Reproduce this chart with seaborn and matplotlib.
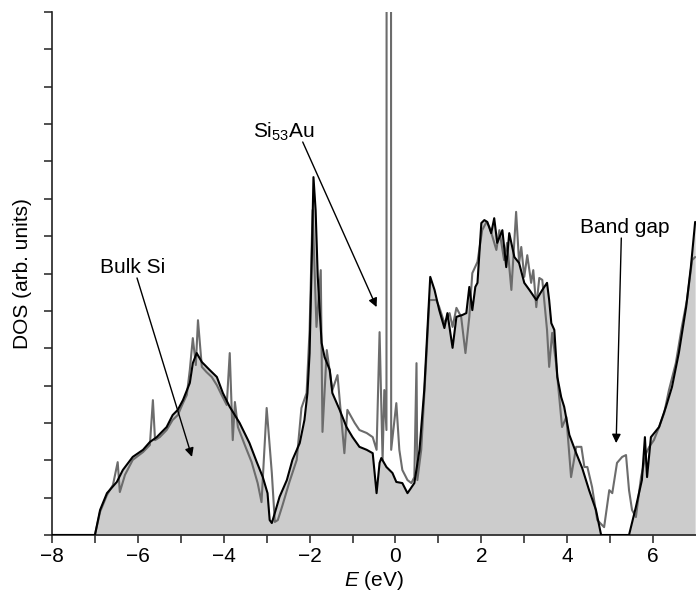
import numpy as np
import pandas as pd
import matplotlib
matplotlib.use("Agg")
import matplotlib.pyplot as plt
import seaborn as sns

# bulk Si DOS (black, filled)
bulk_e = [-8.0, -7.00, -6.88, -6.72, -6.49, -6.35, -6.12, -5.88, -5.72, -5.56,
          -5.33, -5.19, -5.07, -4.95, -4.79, -4.72, -4.63, -4.51, -4.33, -4.16,
          -4.02, -3.86, -3.63, -3.40, -3.23, -3.09, -2.98, -2.93, -2.88, -2.81,
          -2.70, -2.53, -2.40, -2.23, -2.12, -2.05, -2.00, -1.95, -1.91, -1.86,
          -1.81, -1.72, -1.65, -1.53, -1.47, -1.30, -1.14, -1.00, -0.84, -0.67,
          -0.53, -0.44, -0.37, -0.33, -0.21, -0.07, 0.02, 0.16, 0.28, 0.44,
          0.56, 0.67, 0.81, 0.91, 1.02, 1.14, 1.21, 1.33, 1.42, 1.56,
          1.65, 1.72, 1.79, 1.86, 1.91, 2.00, 2.07, 2.14, 2.23, 2.30,
          2.37, 2.49, 2.58, 2.65, 2.77, 2.88, 3.00, 3.12, 3.28, 3.42,
          3.53, 3.58, 3.63, 3.70, 3.77, 3.86, 3.93, 4.05, 4.21, 4.35,
          4.51, 4.67, 4.79, 5.44, 5.60, 5.74, 5.81, 5.86, 5.95, 6.14,
          6.30, 6.44, 6.60, 6.77, 6.88, 6.98]
bulk_dos = [0, 0, 0.67, 1.12, 1.42, 1.74, 2.09, 2.28, 2.49, 2.62,
            2.89, 3.21, 3.35, 3.61, 4.07, 4.60, 4.87, 4.63, 4.42, 4.23,
            3.80, 3.43, 3.00, 2.46, 1.95, 1.55, 1.12, 0.40, 0.32, 0.59,
            1.02, 1.47, 2.01, 2.46, 3.08, 3.80, 4.87, 7.36, 9.58, 8.70,
            6.91, 5.14, 4.76, 4.42, 3.80, 3.35, 2.89, 2.62, 2.36, 2.28,
            2.19, 1.12, 1.93, 2.06, 1.82, 1.66, 1.42, 1.39, 1.12, 1.39,
            2.28, 3.88, 6.91, 6.56, 6.02, 5.54, 5.94, 5.01, 5.84, 5.89,
            5.94, 6.64, 6.02, 6.64, 6.75, 8.35, 8.43, 8.38, 8.08, 8.48,
            7.82, 8.16, 7.17, 8.08, 7.44, 7.28, 6.75, 6.56, 6.29, 6.56,
            6.75, 6.29, 5.67, 5.49, 4.23, 3.69, 3.43, 2.68, 2.19, 1.79,
            1.20, 0.67, 0, 0, 0.75, 1.47, 2.62, 1.55, 2.62, 2.89,
            3.43, 3.96, 4.87, 6.10, 7.17, 8.38]

# Si53Au DOS (grey line)
au_e = [-8.0, -7.00, -6.88, -6.72, -6.58, -6.47, -6.42, -6.30, -6.12, -5.88,
        -5.72, -5.65, -5.60, -5.49, -5.33, -5.19, -5.07, -4.95, -4.86, -4.79,
        -4.72, -4.65, -4.60, -4.51, -4.40, -4.28, -4.16, -4.05, -3.93, -3.86,
        -3.79, -3.74, -3.67, -3.51, -3.35, -3.21, -3.12, -3.00, -2.88, -2.81,
        -2.74, -2.63, -2.47, -2.30, -2.19, -2.07, -2.00, -1.93, -1.84, -1.74,
        -1.70, -1.60, -1.47, -1.35, -1.19, -1.12, -0.95, -0.84, -0.67, -0.53,
        -0.44, -0.37, -0.30, -0.26, -0.21, -0.155, -0.10, 0.02, 0.09, 0.16,
        0.28, 0.37, 0.44, 0.49, 0.51, 0.60, 0.72, 0.79, 0.95, 1.02,
        1.14, 1.26, 1.33, 1.42, 1.53, 1.63, 1.72, 1.79, 1.91, 2.02,
        2.12, 2.19, 2.26, 2.35, 2.42, 2.53, 2.60, 2.70, 2.81, 2.88,
        2.93, 3.00, 3.07, 3.16, 3.21, 3.28, 3.35, 3.42, 3.53, 3.58,
        3.65, 3.74, 3.88, 3.98, 4.09, 4.21, 4.33, 4.40, 4.47, 4.58,
        4.70, 4.86, 4.98, 5.05, 5.16, 5.28, 5.37, 5.44, 5.51, 5.60,
        5.72, 5.84, 5.91, 6.02, 6.14, 6.26, 6.37, 6.53, 6.67, 6.79,
        6.91, 6.98]
au_dos = [0, 0, 0.62, 1.07, 1.34, 1.95, 1.15, 1.61, 2.01, 2.22,
          2.41, 3.61, 2.54, 2.62, 2.81, 3.08, 3.21, 3.53, 3.75, 4.42,
          5.27, 4.55, 5.75, 4.50, 4.36, 4.23, 4.01, 3.75, 3.48, 4.87,
          2.54, 3.56, 2.89, 2.41, 1.95, 1.39, 0.88, 3.40, 1.66, 0.35,
          0.40, 0.80, 1.42, 2.01, 3.40, 3.80, 5.49, 8.70, 5.57, 7.09,
          2.76, 4.95, 3.88, 4.28, 2.19, 3.35, 3.00, 2.81, 2.73, 2.62,
          2.28, 5.43, 2.01, 3.88, 2.81, 200.0, 2.28, 3.53, 2.28, 1.74,
          1.47, 1.39, 1.55, 4.60, 1.47, 2.28, 4.76, 6.29, 6.29, 6.10,
          5.67, 5.94, 5.57, 6.08, 5.84, 4.87, 5.84, 7.01, 7.31, 8.16,
          8.38, 8.24, 7.98, 7.63, 8.16, 7.36, 7.82, 6.56, 8.65, 7.28,
          7.71, 6.91, 7.49, 6.75, 7.09, 6.10, 6.88, 6.83, 5.49, 4.50,
          5.41, 4.60, 2.89, 3.16, 1.55, 2.36, 2.36, 1.82, 1.82, 1.28,
          0.40, 0.21, 1.20, 1.12, 1.93, 2.09, 2.14, 1.20, 0.67, 0.48,
          1.55, 2.19, 2.36, 2.54, 2.89, 3.27, 3.88, 4.60, 5.57, 6.29,
          7.36, 7.44]

x_ticks = [-8, -6, -4, -2, 0, 2, 4, 6]

bulk = pd.DataFrame({"E": bulk_e, "DOS": bulk_dos})
si_au = pd.DataFrame({"E": au_e, "DOS": au_dos})

sns.set_style("ticks")
plt.rcParams["font.family"] = ["Liberation Sans", "DejaVu Sans"]
plt.rcParams["mathtext.fontset"] = "custom"
plt.rcParams["mathtext.rm"] = "Liberation Sans"
plt.rcParams["mathtext.it"] = "Liberation Sans:italic"
plt.rcParams["text.color"] = "black"

fig = plt.figure(figsize=(6.96, 6.01), dpi=100)
ax = fig.add_axes([52 / 696, 66 / 601, 644 / 696, 523 / 601])

ax.fill_between(bulk["E"], 0, bulk["DOS"], color="#cccccc", lw=0, zorder=1)
sns.lineplot(data=si_au, x="E", y="DOS", sort=False, estimator=None,
             color="#6c6c6c", lw=1.5, ax=ax, zorder=2)
sns.lineplot(data=bulk, x="E", y="DOS", sort=False, estimator=None,
             color="black", lw=1.5, ax=ax, zorder=3)

ax.set_xlim(-8, 7)
ax.set_ylim(0, 14)
ax.set_xticks(x_ticks)
ax.set_xticks(np.arange(-7, 7, 2), minor=True)
ax.set_yticks(np.arange(0, 15, 1))
ax.set_yticklabels([])
ax.tick_params(axis="both", which="both", direction="out", length=6,
               width=1.1, colors="#222222", labelsize=15, labelcolor="black")
ax.tick_params(axis="x", pad=3)

sns.despine(ax=ax)
for side in ["left", "bottom"]:
    ax.spines[side].set_linewidth(1.2)
    ax.spines[side].set_color("#222222")

ax.set_xlabel("$\\it{E}$ (eV)", fontsize=15, labelpad=2, color="black")
ax.set_ylabel("DOS (arb. units)", fontsize=15, labelpad=5, color="black")

arrow = dict(arrowstyle="-|>", color="black", lw=1.0, mutation_scale=13,
             shrinkA=0, shrinkB=0)

ax.annotate("", xy=(-4.74, 2.09), xytext=(-6.02, 6.88), arrowprops=arrow)
ax.text(-6.12, 7.15, "Bulk Si", fontsize=15, ha="center", va="center")

ax.annotate("", xy=(-0.44, 6.10), xytext=(-2.16, 10.52), arrowprops=arrow)
ax.text(-2.60, 10.80, "Si$_{53}$Au", fontsize=15, ha="center", va="center")

ax.annotate("", xy=(5.14, 2.46), xytext=(5.26, 7.95), arrowprops=arrow)
ax.text(5.35, 8.24, "Band gap", fontsize=15, ha="center", va="center")

plt.savefig("out.png", dpi=100)
plt.close()
